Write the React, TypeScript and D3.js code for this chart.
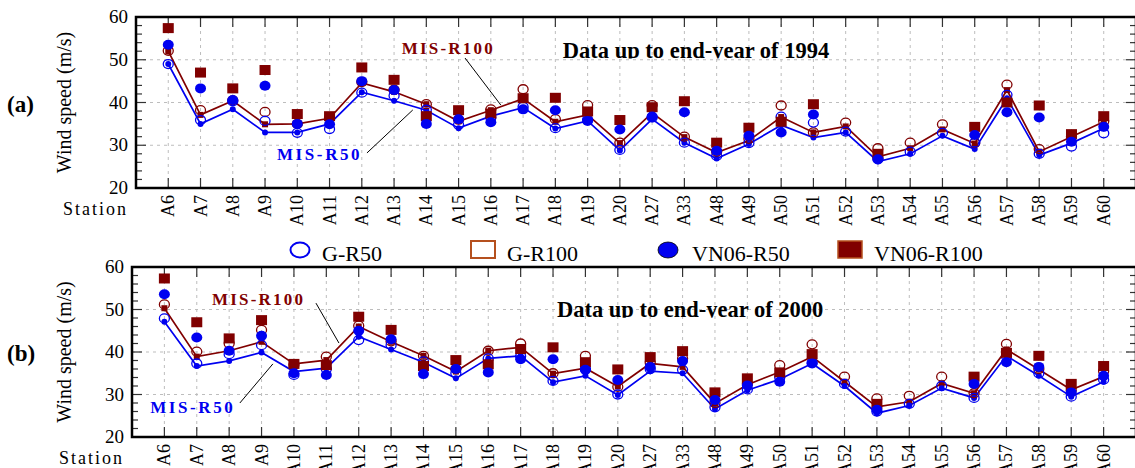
import React from "react";
import * as d3 from "d3";

const stations = ["A6", "A7", "A8", "A9", "A10", "A11", "A12", "A13", "A14", "A15", "A16", "A17", "A18", "A19", "A20", "A27", "A33", "A48", "A49", "A50", "A51", "A52", "A53", "A54", "A55", "A56", "A57", "A58", "A59", "A60"];
const yTicks = [20, 30, 40, 50, 60];

// data up to 1994
const misR50_1994 = [49.0, 35.0, 38.4, 33.0, 33.0, 35.0, 42.4, 40.4, 38.2, 34.0, 36.8, 38.8, 33.9, 35.7, 28.8, 36.1, 30.6, 26.9, 30.3, 34.7, 31.8, 33.0, 26.2, 28.0, 32.2, 29.1, 41.0, 27.7, 30.5, 34.0];
const misR100_1994 = [52.0, 37.1, 40.4, 34.9, 35.0, 36.3, 44.6, 42.5, 39.6, 35.6, 38.2, 40.9, 35.5, 37.1, 30.5, 37.6, 31.9, 28.3, 31.1, 36.6, 33.0, 34.4, 27.3, 29.3, 33.7, 30.4, 42.9, 28.5, 32.0, 35.5];
const gR50_1994 = [49.0, 35.9, 40.3, 35.7, 32.9, 33.8, 42.3, 41.6, 38.3, 34.8, 36.5, 39.0, 34.0, 36.0, 28.9, 36.5, 30.6, 27.5, 30.5, 36.7, 35.3, 33.2, 26.8, 28.5, 32.9, 30.6, 41.8, 28.0, 29.7, 32.8];
const gR100_1994 = [52.1, 38.2, 40.5, 37.8, 35.0, 36.5, 44.8, 43.0, 39.6, 36.0, 38.4, 43.1, 36.1, 39.4, 30.6, 39.4, 32.0, 28.5, 31.5, 39.3, 33.0, 35.3, 29.3, 30.6, 34.9, 30.5, 44.2, 29.1, 32.0, 35.6];
const vnR50_1994 = [53.5, 43.3, 40.6, 43.9, 35.0, 34.9, 45.0, 42.9, 35.0, 36.1, 35.4, 38.4, 38.2, 35.7, 33.7, 36.7, 37.7, 28.7, 32.2, 33.0, 37.2, null, 26.7, null, null, 32.4, 37.7, 36.5, 30.8, 34.3];
const vnR100_1994 = [57.4, 47.0, 43.3, 47.6, 37.3, 36.8, 48.2, 45.3, 36.8, 38.2, 37.4, 41.0, 41.1, 37.9, 35.9, 38.9, 40.3, 30.6, 34.1, 35.5, 39.6, null, 28.0, null, null, 34.3, 40.0, 39.3, 32.6, 36.8];

// data up to 2000
const misR50_2000 = [47.1, 36.7, 37.9, 39.9, 35.4, 36.2, 43.6, 40.6, 37.6, 33.8, 38.5, 39.1, 32.9, 34.4, 29.9, 35.5, 35.0, 26.6, 31.0, 33.6, 37.3, 32.0, 25.6, 27.4, 31.5, 29.2, 39.1, 34.4, 29.5, 33.0];
const misR100_2000 = [50.3, 38.9, 40.3, 42.4, 37.2, 38.1, 46.0, 42.4, 39.1, 35.4, 40.3, 41.1, 34.9, 36.2, 31.9, 37.3, 36.5, 27.9, 32.3, 35.3, 38.9, 33.0, 27.1, 28.3, 32.6, 30.3, 40.6, 35.9, 31.1, 34.2];
const gR50_2000 = [47.9, 37.3, 39.5, 41.6, 34.6, 36.0, 42.8, 41.6, 37.8, 35.0, 38.5, 39.0, 33.2, 36.0, 30.0, 36.0, 35.8, 27.0, 31.2, 34.0, 37.5, 32.5, 26.0, 27.8, 32.0, 29.2, 39.0, 35.0, 29.5, 33.5];
const gR100_2000 = [51.2, 40.1, 42.0, 45.2, 37.0, 38.9, 46.2, 42.5, 39.1, 36.0, 40.3, 42.0, 35.0, 39.1, 31.8, 37.5, 38.5, 28.0, 32.5, 36.9, 41.8, 34.2, 29.1, 29.7, 34.2, 30.3, 41.9, 36.0, 31.0, 35.5];
const vnR50_2000 = [53.6, 43.4, 40.3, 43.8, 35.0, 34.6, 45.0, 43.0, 34.8, 36.0, 35.2, 38.3, 38.3, 35.8, 33.4, 36.5, 37.9, 28.7, 32.1, 33.0, 37.3, null, 26.4, null, null, 32.5, 37.6, 36.5, 30.5, 34.4];
const vnR100_2000 = [57.3, 47.0, 43.2, 47.5, 37.2, 36.9, 48.3, 45.2, 36.7, 38.1, 37.1, 40.7, 41.1, 37.6, 35.9, 38.8, 40.2, 30.5, 33.8, 35.2, 39.5, null, 27.8, null, null, 34.2, 39.8, 39.1, 32.5, 36.7];

const BLUE = "#0000f0";
const RED = "#800000";
const LEGEND_EDGE = "#b5501e";
const FONT = "'Liberation Serif', 'Times New Roman', serif";

type Num = number | null;

interface PanelProps {
  id: string;
  tag: string;
  title: string;
  left: number;
  top: number;
  bottom: number;
  misR50: number[];
  misR100: number[];
  gR50: number[];
  gR100: number[];
  vnR50: Num[];
  vnR100: Num[];
  // annotations in data space: [station offset, value]
  r100Text: [number, number];
  r100Lead: [number, number, number, number];
  r50Text: [number, number];
  r50Lead: [number, number, number, number];
  titlePos: [number, number];
}

const Panel = (p: PanelProps) => {
  const right = 1136;
  const x = d3.scalePoint<string>().domain(stations).range([p.left, right]).padding(1);
  const y = d3.scaleLinear().domain([20, 60]).range([p.bottom, p.top]);
  const step = x.step();
  const xAt = (f: number) => (x(stations[0]) as number) + f * step;
  const minor = d3.range(20, 61, 2);

  const lineGen = d3.line<number>()
    .x((_, i) => x(stations[i]) as number)
    .y(d => y(d));

  const pts = (arr: Num[]) =>
    arr.map((v, i) => ({ v, cx: x(stations[i]) as number })).filter(d => d.v !== null) as { v: number; cx: number }[];

  const titleY = y(p.titlePos[1]);

  return (
    <g>
      <defs>
        <clipPath id={`clip-${p.id}`}>
          <rect x={0} y={0} width={1135} height={titleY + 0.5} />
        </clipPath>
      </defs>
      {/* grid */}
      {[30, 40, 50].map(t => (
        <line key={"h" + t} x1={p.left} x2={right} y1={y(t)} y2={y(t)} stroke="#bdbdbd" strokeDasharray="3,4" />
      ))}
      {stations.map(s => (
        <line key={"v" + s} x1={x(s)} x2={x(s)} y1={p.top} y2={p.bottom} stroke="#bdbdbd" strokeDasharray="3,4" />
      ))}
      {/* station ticks */}
      {stations.map(s => (
        <g key={"t" + s} stroke="#333" strokeWidth={1.2}>
          <line x1={x(s)} x2={x(s)} y1={p.top} y2={p.top + 10} />
          <line x1={x(s)} x2={x(s)} y1={p.bottom} y2={p.bottom - 10} />
        </g>
      ))}
      {/* y ticks, left and right */}
      {minor.map(t => {
        const len = t % 10 === 0 ? 10 : 6;
        return (
          <g key={"m" + t} stroke="#333" strokeWidth={1.2}>
            <line x1={p.left} x2={p.left + len} y1={y(t)} y2={y(t)} />
            <line x1={right} x2={right - len} y1={y(t)} y2={y(t)} />
          </g>
        );
      })}
      {/* frame */}
      <rect x={p.left} y={p.top} width={right - p.left} height={p.bottom - p.top} fill="none" stroke="#000" strokeWidth={2.5} />

      {/* y labels */}
      {yTicks.map(t => (
        <text key={"yl" + t} x={p.left - 8} y={y(t) + 6} textAnchor="end" fontSize={19} fontFamily={FONT}>{t}</text>
      ))}
      <text transform={`translate(71,${(p.top + p.bottom) / 2}) rotate(-90)`} textAnchor="middle" fontSize={20} fontFamily={FONT}>Wind speed (m/s)</text>
      <text x={7} y={(p.top + p.bottom) / 2 + 9} fontSize={23} fontWeight="bold" fontFamily={FONT}>{p.tag}</text>
      <text x={p.left - 8} y={p.bottom + 27} textAnchor="end" fontSize={18} letterSpacing={2} fontFamily={FONT}>Station</text>
      {stations.map(s => (
        <text key={"xl" + s} transform={`translate(${(x(s) as number) + 6},${p.bottom + 7}) rotate(-90)`} textAnchor="end" fontSize={18} fontFamily={FONT}>{s}</text>
      ))}

      {/* lines */}
      <path d={lineGen(p.misR100) || ""} fill="none" stroke={RED} strokeWidth={1.7} />
      <path d={lineGen(p.misR50) || ""} fill="none" stroke={BLUE} strokeWidth={1.7} />
      {pts(p.misR100).map((d, i) => (
        <rect key={"mr" + i} x={d.cx - 3} y={y(d.v) - 3} width={6} height={6} fill={RED} />
      ))}
      {pts(p.misR50).map((d, i) => (
        <circle key={"mb" + i} cx={d.cx} cy={y(d.v)} r={3} fill={BLUE} />
      ))}
      {/* G markers */}
      {pts(p.gR100).map((d, i) => (
        <ellipse key={"gr" + i} cx={d.cx} cy={y(d.v)} rx={5} ry={4.5} fill="none" stroke={RED} strokeWidth={1.3} />
      ))}
      {pts(p.gR50).map((d, i) => (
        <ellipse key={"gb" + i} cx={d.cx} cy={y(d.v)} rx={5} ry={4.5} fill="none" stroke={BLUE} strokeWidth={1.3} />
      ))}
      {/* VN06 markers */}
      {pts(p.vnR100).map((d, i) => (
        <rect key={"vr" + i} x={d.cx - 5.5} y={y(d.v) - 5} width={11} height={10} fill={RED} />
      ))}
      {pts(p.vnR50).map((d, i) => (
        <ellipse key={"vb" + i} cx={d.cx} cy={y(d.v)} rx={5.5} ry={5} fill={BLUE} />
      ))}

      {/* annotations */}
      <text x={xAt(p.r100Text[0])} y={y(p.r100Text[1])} fontSize={17} fontWeight="bold" letterSpacing={2.2} fill={RED} fontFamily={FONT}>MIS-R100</text>
      <line x1={xAt(p.r100Lead[0])} y1={y(p.r100Lead[1])} x2={xAt(p.r100Lead[2])} y2={y(p.r100Lead[3])} stroke="#000" strokeWidth={1} />
      <text x={xAt(p.r50Text[0])} y={y(p.r50Text[1])} fontSize={17} fontWeight="bold" letterSpacing={2.6} fill={BLUE} fontFamily={FONT}>MIS-R50</text>
      <line x1={xAt(p.r50Lead[0])} y1={y(p.r50Lead[1])} x2={xAt(p.r50Lead[2])} y2={y(p.r50Lead[3])} stroke="#000" strokeWidth={1} />
      <text x={xAt(p.titlePos[0])} y={titleY} fontSize={22.5} fontWeight="bold" fontFamily={FONT} clipPath={`url(#clip-${p.id})`}>{p.title}</text>
    </g>
  );
};

const legendItems = ["G-R50", "G-R100", "VN06-R50", "VN06-R100"];
const legendX = [300, 483, 668, 850];

const Legend = () => (
  <g fontFamily={FONT} fontSize={22}>
    <ellipse cx={legendX[0]} cy={250} rx={9.5} ry={7.5} fill="none" stroke={BLUE} strokeWidth={2} />
    <rect x={legendX[1] - 12} y={241} width={24} height={17} fill="none" stroke={LEGEND_EDGE} strokeWidth={2} />
    <ellipse cx={legendX[2]} cy={250} rx={10} ry={8} fill={BLUE} stroke="#000" strokeWidth={0.8} />
    <rect x={legendX[3] - 12} y={241} width={24} height={17} fill={RED} stroke={LEGEND_EDGE} strokeWidth={1.5} />
    {legendItems.map((t, i) => (
      <text key={t} x={legendX[i] + (i === 0 ? 22 : 24)} y={261}>{t}</text>
    ))}
  </g>
);

export default function App() {
  return (
    <div style={{ position: "absolute", left: 0, top: 0 }}>
      <svg width={1135} height={468} style={{ display: "block", background: "#fff" }}>
        <Panel
          id="a" tag="(a)" title="Data up to end-year of 1994"
          left={136} top={17} bottom={188}
          misR50={misR50_1994} misR100={misR100_1994} gR50={gR50_1994} gR100={gR100_1994} vnR50={vnR50_1994} vnR100={vnR100_1994}
          r100Text={[7.24, 51.3]} r100Lead={[9.2, 50.4, 10.31, 39.4]}
          r50Text={[3.37, 26.55]} r50Lead={[6.16, 28.2, 7.58, 38.25]}
          titlePos={[12.23, 50.4]}
        />
        <Legend />
        <Panel
          id="b" tag="(b)" title="Data up to end-year of 2000"
          left={132} top={267} bottom={437}
          misR50={misR50_2000} misR100={misR100_2000} gR50={gR50_2000} gR100={gR100_2000} vnR50={vnR50_2000} vnR100={vnR100_2000}
          r100Text={[1.47, 51.06]} r100Lead={[4.68, 51.5, 5.39, 42.1]}
          r50Text={[-0.44, 25.65]} r50Lead={[2.33, 28.0, 3.35, 37.2]}
          titlePos={[12.12, 48.2]}
        />
      </svg>
    </div>
  );
}
